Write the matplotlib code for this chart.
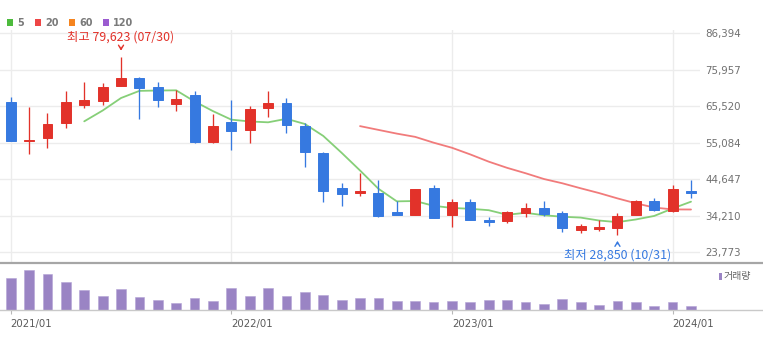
import numpy as np
import pandas as pd
import matplotlib
matplotlib.use("Agg")
import matplotlib.pyplot as plt
from matplotlib.lines import Line2D
from matplotlib.patches import Rectangle
from matplotlib.transforms import offset_copy

# Monthly candles, 2021/01 - 2024/02
months = pd.period_range("2021-01", "2024-02", freq="M")
opens = [66750, 55700, 56460, 60660, 65980, 67120, 71330, 73700, 71040, 66270,
         68750, 55230, 61120, 58660, 64950, 66470, 59890, 52250, 42160, 40730,
         40730, 35210, 34440, 42250, 34440, 38070, 33100, 32720, 35100, 36440,
         34930, 30060, 30520, 30720, 34440, 38360, 35500, 41390]
highs = [68270, 65240, 63610, 69900, 72470, 72100, 79623, 73900, 72560, 70180,
         69900, 63320, 67320, 65610, 69900, 67810, 60830, 52400, 43500, 46360,
         44450, 38440, 41900, 42930, 38930, 38990, 33950, 35670, 37790, 38440,
         35670, 31870, 33010, 34930, 38730, 39390, 43020, 44450]
lows = [55600, 51800, 53680, 59320, 64950, 65890, 71200, 61800, 65410, 64090,
        54940, 55100, 53030, 54940, 62380, 57970, 48250, 38240, 37010, 39870,
        33950, 34300, 34300, 33500, 31090, 32870, 31210, 32070, 33950, 34150,
        29490, 29380, 29860, 28850, 34300, 35500, 35210, 39210]
closes = [55690, 55800, 60460, 66750, 67410, 71130, 73700, 70670, 67240, 67700,
          55230, 59890, 58460, 64660, 66470, 60260, 52450, 41390, 40500, 41220,
          34150, 34440, 41870, 33670, 38160, 32920, 32440, 35300, 36530, 34640,
          30810, 31210, 31090, 34240, 38440, 35870, 41870, 40820]
# monthly volume, millions of shares
volumes = [16.0, 19.9, 18.2, 14.2, 9.9, 7.2, 10.5, 6.7, 4.9, 3.7,
           6.2, 4.4, 11.0, 7.2, 11.0, 7.2, 8.9, 7.7, 4.9, 6.2,
           6.2, 4.4, 4.4, 3.9, 4.4, 3.9, 4.9, 4.9, 3.9, 3.2,
           5.5, 3.9, 2.7, 4.4, 3.9, 2.2, 3.9, 1.9]

price_ticks = [23773, 34210, 44647, 55084, 65520, 75957, 86394]
year_tick_labels = ["2021/01", "2022/01", "2023/01", "2024/01"]
high_date = "07/30"
low_date = "10/31"
ma_periods = [5, 20, 60, 120]
ma_colors = ["#4dbb3d", "#ee4646", "#f5841f", "#9b5bd0"]

RED = "#e2322a"
BLUE = "#3679e0"
VOL = "#9a84c4"

W, H = 763, 338
fig = plt.figure(figsize=(W / 100, H / 100), dpi=100)
plt.rcParams["font.family"] = ["DejaVu Sans"]
KR = ["Noto Sans CJK KR", "DejaVu Sans"]


def fx(x):
    return x / W


def fy(y):
    return 1 - y / H


# pane geometry (pixels)
plot_right = 700
price_top, price_bot = 30, 263
vol_bot = 310

ax = fig.add_axes([0, fy(price_bot), fx(plot_right), (price_bot - price_top) / H])
axv = fig.add_axes([0, fy(vol_bot), fx(plot_right), (vol_bot - price_bot) / H])

x = np.arange(len(months))
o = np.array(opens, float)
h = np.array(highs, float)
l = np.array(lows, float)
c = np.array(closes, float)
up = c >= o
colors = np.where(up, RED, BLUE)

# price scale: tick spacing sets pixels per won
px_per_won = (252.3 - 33.3) / (price_ticks[-1] - price_ticks[0])
y_lo = price_ticks[0] - (price_bot - 252.3) / px_per_won
y_hi = price_ticks[-1] + (33.3 - price_top) / px_per_won

step = (691 - 10.7) / (len(x) - 1)
x_lo = -10.7 / step
x_hi = (plot_right - 10.7) / step

for a in (ax, axv):
    a.set_xlim(x_lo, x_hi)
    for s in a.spines.values():
        s.set_visible(False)
    a.patch.set_alpha(0)

ax.set_ylim(y_lo, y_hi)

# grid
for v in price_ticks:
    ax.axhline(v, color="#ececec", lw=1.0, zorder=0)
for i in (0, 12, 24, 36):
    ax.axvline(i, color="#ececec", lw=1.0, zorder=0)

# moving averages
close_s = pd.Series(c)
line_colors = {5: "#86cf78", 20: "#f17b7b"}
for p, col in zip(ma_periods, ma_colors):
    ma = close_s.rolling(p).mean()
    if ma.notna().any():
        ax.plot(x, ma, color=line_colors.get(p, col), lw=1.3, zorder=2,
                solid_capstyle="round")

# candles
ax.vlines(x, l, h, colors=colors, linewidth=0.95, zorder=3)
ax.bar(x, np.abs(c - o), bottom=np.minimum(o, c), width=0.54, color=colors,
       edgecolor=colors, linewidth=0.7, zorder=4)

ax.set_yticks(price_ticks)
ax.set_yticklabels([f"{v:,}" for v in price_ticks])
ax.yaxis.tick_right()
ax.tick_params(axis="y", length=0, pad=4, labelsize=7.4, labelcolor="#707070")
ax.tick_params(axis="x", bottom=False, labelbottom=False)

# high / low markers
hi_i = int(np.argmax(h))
lo_i = int(np.argmin(l))
tip = offset_copy(ax.transData, fig=fig, y=3.5, units="dots")
tail = offset_copy(ax.transData, fig=fig, y=12.5, units="dots")
ax.annotate("", xy=(hi_i, h[hi_i]), xycoords=tip, xytext=(hi_i, h[hi_i]), textcoords=tail,
            arrowprops=dict(arrowstyle="->,head_length=0.3,head_width=0.18", color=RED, lw=1.0))
ax.annotate(f"최고 {int(h[hi_i]):,} ({high_date})", xy=(hi_i, h[hi_i]), xytext=(0, 20),
            textcoords="offset pixels", ha="center", va="center", color=RED,
            fontsize=8.9, family=KR)

tip_l = offset_copy(ax.transData, fig=fig, y=-3.5, units="dots")
tail_l = offset_copy(ax.transData, fig=fig, y=-12, units="dots")
ax.annotate("", xy=(lo_i, l[lo_i]), xycoords=tip_l, xytext=(lo_i, l[lo_i]), textcoords=tail_l,
            arrowprops=dict(arrowstyle="->,head_length=0.3,head_width=0.18", color=BLUE, lw=1.0))
ax.annotate(f"최저 {int(l[lo_i]):,} ({low_date})", xy=(lo_i, l[lo_i]), xytext=(0, -20.5),
            textcoords="offset pixels", ha="center", va="center", color=BLUE,
            fontsize=8.9, family=KR)

# volume pane
axv.bar(x, volumes, width=0.53, color=VOL, edgecolor="#b4a4d6", linewidth=0.4)
axv.set_ylim(0, (vol_bot - price_bot) / 2.0)
axv.set_yticks([])
axv.set_xticks([0, 12, 24, 36])
axv.set_xticklabels(year_tick_labels, ha="left")
axv.tick_params(axis="x", direction="out", length=3.2, width=0.8, color="#b8b8b8",
                labelsize=7.3, labelcolor="#5a5a5a", pad=3)

# pane separators
fig.add_artist(Line2D([0, 1], [fy(263.3)] * 2, transform=fig.transFigure,
                      color="#a6a6a6", lw=1.6))
fig.add_artist(Line2D([0, 1], [fy(310.2)] * 2, transform=fig.transFigure,
                      color="#c9c9c9", lw=1.0))

# volume legend
fig.add_artist(Rectangle((fx(719), fy(280)), 3 / W, 7 / H, transform=fig.transFigure,
                         color=VOL, lw=0))
fig.text(fx(724), fy(276.5), "거래량", ha="left", va="center", fontsize=7.2,
         color="#666666", family=KR)

# moving-average legend
sq_x = [7, 35, 69, 103]
tx_x = [17, 45, 79, 113]
for p, col, sx, tx in zip(ma_periods, ma_colors, sq_x, tx_x):
    fig.add_artist(Rectangle((fx(sx), fy(26)), 6 / W, 6.5 / H, transform=fig.transFigure,
                             color=col, lw=0))
    fig.text(fx(tx), fy(22.5), str(p), ha="left", va="center", fontsize=7.0,
             fontweight="bold", color="#7a7a7a")

fig.savefig("out.png", dpi=100)
